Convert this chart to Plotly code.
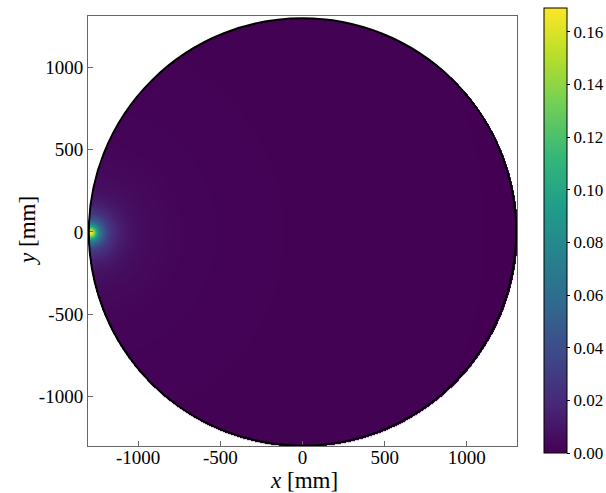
import numpy as np
import plotly.graph_objects as go

# Detector disc and source location (mm)
disc_radius_mm = 1300.0
source_x_mm = -1290.0
source_y_mm = 0.0

# Radial fall-off of the deposited fraction measured from the source (mm -> value)
profile_r_mm = [0, 12, 25, 40, 60, 90, 125, 180, 250, 350, 500, 800, 1200, 2600]
profile_val = [0.169, 0.160, 0.130, 0.095, 0.065, 0.040, 0.025, 0.014, 0.008,
               0.0045, 0.0025, 0.0012, 0.0007, 0.0002]

# Axis ticks
x_ticks = [-1000, -500, 0, 500, 1000]
y_ticks = [-1000, -500, 0, 500, 1000]
cbar_ticks = [0.00, 0.02, 0.04, 0.06, 0.08, 0.10, 0.12, 0.14, 0.16]

# Sampling grid over the disc (slightly oversized so the outline covers the edge)
grid = np.linspace(-disc_radius_mm - 10, disc_radius_mm + 10, 431)
gx, gy = np.meshgrid(grid, grid)
r_src = np.hypot(gx - source_x_mm, gy - source_y_mm)
field = np.exp(np.interp(r_src, profile_r_mm, np.log(profile_val)))
field[np.hypot(gx, gy) > disc_radius_mm + 6] = np.nan

serif = "Liberation Serif, Times New Roman, serif"
axis_col = "#666666"

# plot area in pixels: x 88..517, y 16..446
left, right, top, bottom = 88, 517, 16, 446
plot_w, plot_h = right - left, bottom - top

fig = go.Figure()
fig.add_trace(go.Heatmap(
    x=grid, y=grid, z=field,
    colorscale="Viridis", zmin=0.0, zmax=0.169,
    zsmooth="best",
    hoverongaps=False,
    colorbar=dict(
        x=(544 - left) / plot_w, xanchor="left",
        y=1 + (top - 8) / plot_h, yanchor="top",
        lenmode="pixels", len=445, thickness=23,
        outlinecolor="black", outlinewidth=1,
        tickvals=cbar_ticks, ticktext=[f"{v:.2f}" for v in cbar_ticks],
        ticks="outside", ticklen=3, tickcolor="black",
        tickfont=dict(family=serif, size=17, color="black"),
        xpad=0, ypad=0,
    ),
))

# Disc boundary
fig.add_shape(type="circle", xref="x", yref="y",
              x0=-disc_radius_mm, y0=-disc_radius_mm,
              x1=disc_radius_mm, y1=disc_radius_mm,
              line=dict(color="black", width=2), layer="above")

# Axis titles
fig.add_annotation(text="<i>x</i> [mm]", xref="paper", yref="paper",
                   x=(304 - left) / plot_w, y=-(481 - bottom) / plot_h,
                   xanchor="center", yanchor="middle", showarrow=False,
                   font=dict(family=serif, size=23, color="black"))
fig.add_annotation(text="<i>y</i> [mm]", xref="paper", yref="paper",
                   x=-(left - 27) / plot_w, y=(bottom - 231) / plot_h,
                   xanchor="center", yanchor="middle", showarrow=False,
                   textangle=-90,
                   font=dict(family=serif, size=23, color="black"))

fig.update_layout(
    width=606, height=493,
    margin=dict(l=left, r=606 - right, t=top, b=493 - bottom, autoexpand=False),
    paper_bgcolor="white", plot_bgcolor="white",
    font=dict(family=serif, size=19, color="black"),
    showlegend=False,
)
fig.update_xaxes(
    range=[-1305, 1305], showgrid=False, zeroline=False,
    showline=True, linecolor=axis_col, linewidth=1, mirror=True,
    ticks="inside", ticklen=5, tickcolor=axis_col,
    tickvals=x_ticks, ticktext=[str(v) for v in x_ticks],
    tickfont=dict(family=serif, size=19), ticklabelstandoff=-6,
)
fig.update_yaxes(
    range=[-1302, 1314], showgrid=False, zeroline=False,
    showline=True, linecolor=axis_col, linewidth=1, mirror=True,
    ticks="inside", ticklen=5, tickcolor=axis_col,
    tickvals=y_ticks, ticktext=[str(v) for v in y_ticks],
    tickfont=dict(family=serif, size=19),
)

fig.write_html("out.html")
